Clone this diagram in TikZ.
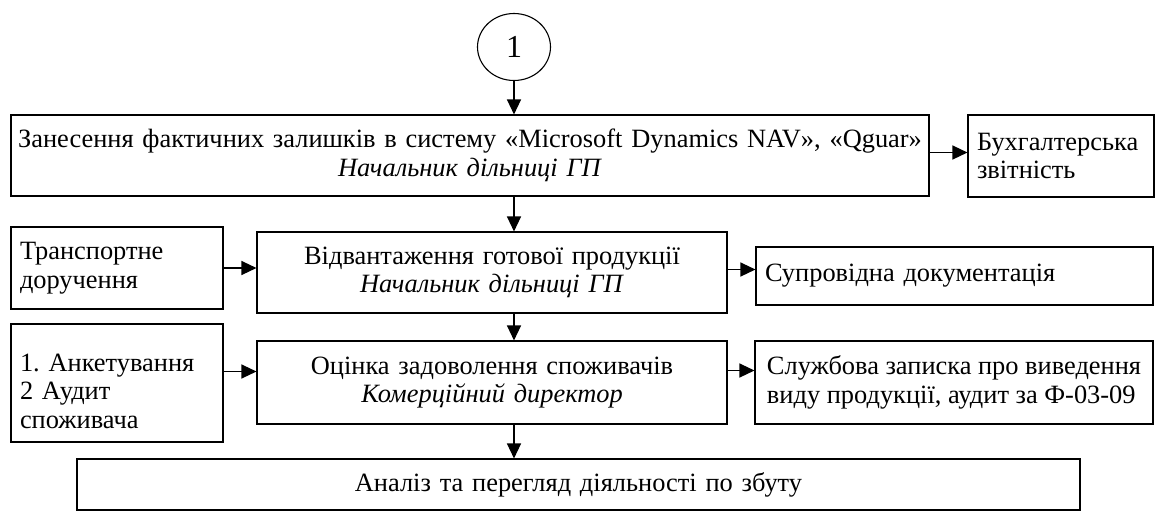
\documentclass[tikz,border=0pt]{standalone}
\usepackage{fontspec}
\setmainfont{Liberation Serif}
\usepackage{tikz}
\usetikzlibrary{arrows.meta, positioning, shapes.geometric, calc}
\frenchspacing

\begin{document}
\begin{tikzpicture}[x=1pt, y=-1pt,
  font=\fontsize{26.4}{28.5}\selectfont,
  box/.style={draw, rectangle, line width=1.1pt, inner xsep=9pt, inner ysep=0pt},
  arr/.style={line width=1.3pt, -{Triangle[length=15pt, width=14pt]}}]
  \useasboundingbox (0,0) rectangle (1157,512);

  %--- start marker and first step ---
  \node[draw, ellipse, line width=1.1pt, minimum width=73pt, minimum height=67pt,
    inner sep=0pt, font=\fontsize{32}{32}\selectfont] (start) at (514,47) {1};
  \node[box, inner xsep=4pt, minimum height=81pt, text width=910pt, align=center] (zan) at (470,155.5)
    {Занесення фактичних залишків в систему «Microsoft Dynamics NAV», «Qguar»\\
     \textit{Начальник дільниці ГП}};
  \node[box, minimum height=82pt, text width=168pt, align=left] (buh) at (1061,156)
    {Бухгалтерська\\звітність};

  %--- shipment ---
  \node[box, minimum height=82pt, text width=194pt, align=left] (tran) at (117,268)
    {Транспортне\\доручення};
  \node[box, minimum height=81pt, text width=452pt, align=center] (vidv) at (492,272.5)
    {Відвантаження готової продукції\\ \textit{Начальник дільниці ГП}};
  \node[box, minimum height=58pt, text width=379pt, align=left] (supr) at (954.5,276)
    {Супровідна документація};

  %--- customer satisfaction ---
  \node[box, minimum height=118pt, text width=194pt, align=left] (anket) at (117,383)
    {\rule{0pt}{34pt}1. Анкетування\\2 Аудит\\споживача};
  \node[box, minimum height=83pt, text width=452pt, align=center] (otsin) at (492,382.5)
    {Оцінка задоволення споживачів\\ \textit{Комерційний директор}};
  \node[box, minimum height=83pt, minimum width=398pt, inner xsep=2pt, align=left] (sluzh) at (954,382.5)
    {Службова записка про виведення\\виду продукції, аудит за Ф-03-09};

  %--- analysis ---
  \node[box, minimum height=51pt, text width=985pt, align=center] (anal) at (578.5,484.5)
    {Аналіз та перегляд діяльності по збуту};

  %--- arrows ---
  \draw[arr] (start) -- (start |- zan.north);
  \draw[arr] (start |- zan.south) -- (start |- vidv.north);
  \draw[arr] (start |- vidv.south) -- (start |- otsin.north);
  \draw[arr] (start |- otsin.south) -- (start |- anal.north);
  \draw[arr] ([yshift=3pt]zan.east) -- ([yshift=3pt]zan.east -| buh.west);
  \draw[arr] (tran.east) -- (tran.east -| vidv.west);
  \draw[arr] ([yshift=3pt]vidv.east) -- ([yshift=3pt]vidv.east -| supr.west);
  \draw[arr] ([yshift=11.5pt]anket.east) -- ([yshift=11.5pt]anket.east -| otsin.west);
  \draw[arr] ([yshift=12pt]otsin.east) -- ([yshift=12pt]otsin.east -| sluzh.west);
\end{tikzpicture}
\end{document}
